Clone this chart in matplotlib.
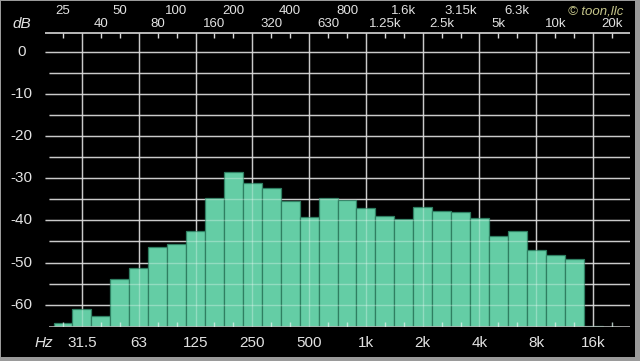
import matplotlib
matplotlib.use("Agg")
import matplotlib.pyplot as plt
from matplotlib.patches import Rectangle

# 1/3-octave band centres
bands = ["25", "31.5", "40", "50", "63", "80", "100", "125", "160", "200",
         "250", "315", "400", "500", "630", "800", "1k", "1.25k", "1.6k", "2k",
         "2.5k", "3.15k", "4k", "5k", "6.3k", "8k", "10k", "12.5k", "16k", "20k"]
levels = [-64.3, -61.1, -62.6, -53.9, -51.4, -46.4, -45.5, -42.4, -34.6, -28.5,
          -31.2, -32.4, -35.5, -39.1, -34.6, -35.1, -37.1, -38.9, -39.7, -36.7,
          -37.7, -37.9, -39.4, -43.6, -42.6, -47.1, -48.3, -49.2, -65.0, -65.3]

top_row1 = ["25", "50", "100", "200", "400", "800", "1.6k", "3.15k", "6.3k"]
top_row1_idx = [0, 3, 6, 9, 12, 15, 18, 21, 24]
top_row2 = ["40", "80", "160", "320", "630", "1.25k", "2.5k", "5k", "10k", "20k"]
top_row2_idx = [2, 5, 8, 11, 14, 17, 20, 23, 26, 29]
bottom_labels = ["31.5", "63", "125", "250", "500", "1k", "2k", "4k", "8k", "16k"]
bottom_idx = [1, 4, 7, 10, 13, 16, 19, 22, 25, 28]
y_labels = ["0", "-10", "-20", "-30", "-40", "-50", "-60"]
y_vals = [0, -10, -20, -30, -40, -50, -60]

W, H = 640, 361
fig = plt.figure(figsize=(W / 100, H / 100), dpi=100)
fig.patch.set_facecolor("#9a9a9a")
fig.patches.append(Rectangle((1 / W, 1 - 357 / H), 634 / W, 356 / H,
                             transform=fig.transFigure, facecolor="black",
                             edgecolor="none", zorder=-10))

# axes placement in pixels
px_l, px_r, px_t, px_b = 45, 630, 33, 327
ax = fig.add_axes([px_l / W, 1 - px_b / H, (px_r - px_l) / W, (px_b - px_t) / H])
ax.set_zorder(5)
ax.set_facecolor("none")
for s in ax.spines.values():
    s.set_visible(False)
ax.set_xticks([])
ax.set_yticks([])

x0 = -0.95
x_min = -0.74
x1 = 29.95
ytop = 4.5
ybot = -65.3
ax.set_xlim(x0, x1)
ax.set_ylim(ybot, ytop)

idx = list(range(len(bands)))
bar_col = "#64cda5"
edge_col = "#2f7f62"
heights = [v - ybot for v in levels]
ax.bar(idx, heights, bottom=ybot, width=1.0, color=bar_col,
       edgecolor=edge_col, linewidth=0.9, zorder=2)

grid_col = "#b4b4b4"
# horizontal grid lines
for v in range(0, -65, -5):
    start = x0 if v % 10 == 0 else x_min
    ax.hlines(v, start, x1, color=grid_col, lw=1.0, zorder=1)
    ax.hlines(v, start, x1, color="white", alpha=0.3, lw=1.0, zorder=3)
# bottom and top lines
ax.hlines(ybot, x_min, x1, color=grid_col, lw=1.2, zorder=3)
ax.hlines(ytop, x0, x1, color="#d8d8d8", lw=1.2, zorder=3, clip_on=False)
# vertical grid lines at octave labels
for i in bottom_idx:
    ax.vlines(i, ybot, ytop, color=grid_col, lw=1.0, zorder=1)
    ax.vlines(i, ybot, ytop, color="white", alpha=0.3, lw=1.0, zorder=3)
# small ticks at other bands
tick_len = 1.3
for i in idx:
    if i in bottom_idx:
        continue
    ax.vlines(i, ytop - tick_len, ytop, color="#d8d8d8", lw=1.0, zorder=3)
    ax.vlines(i, ybot, ybot + tick_len, color="#d8f0e8", alpha=0.8, lw=1.0, zorder=3)

txt = "#e2e2e2"
fs_main = 11
fs_top = 9.5
fam = "Liberation Sans"
for lab, v in zip(y_labels, y_vals):
    ax.text(-2.2, v, lab, color=txt, fontsize=fs_main, ha="center", va="center",
            family=fam, clip_on=False)
for lab, i in zip(bottom_labels, bottom_idx):
    ax.text(i, ybot - 3.9, lab, color=txt, fontsize=fs_main, ha="center", va="center",
            family=fam, clip_on=False)
ax.text(-1.0, ybot - 3.9, "Hz", color=txt, fontsize=fs_main, ha="center", va="center",
        style="italic", family=fam, clip_on=False)
for lab, i in zip(top_row1, top_row1_idx):
    ax.text(i, ytop + 5.2, lab, color=txt, fontsize=fs_top, ha="center", va="center",
            family=fam, clip_on=False)
for lab, i in zip(top_row2, top_row2_idx):
    ax.text(i, ytop + 2.1, lab, color=txt, fontsize=fs_top, ha="center", va="center",
            family=fam, clip_on=False)
ax.text(-2.2, ytop + 2.1, "dB", color=txt, fontsize=fs_main, ha="center", va="center",
        style="italic", family=fam, clip_on=False)
ax.text(29.6, ytop + 5.2, "© toon,llc", color="#c5c58a", fontsize=fs_top, ha="right",
        va="center", style="italic", family=fam, clip_on=False)

fig.savefig("out.png", dpi=100, facecolor=fig.get_facecolor())
